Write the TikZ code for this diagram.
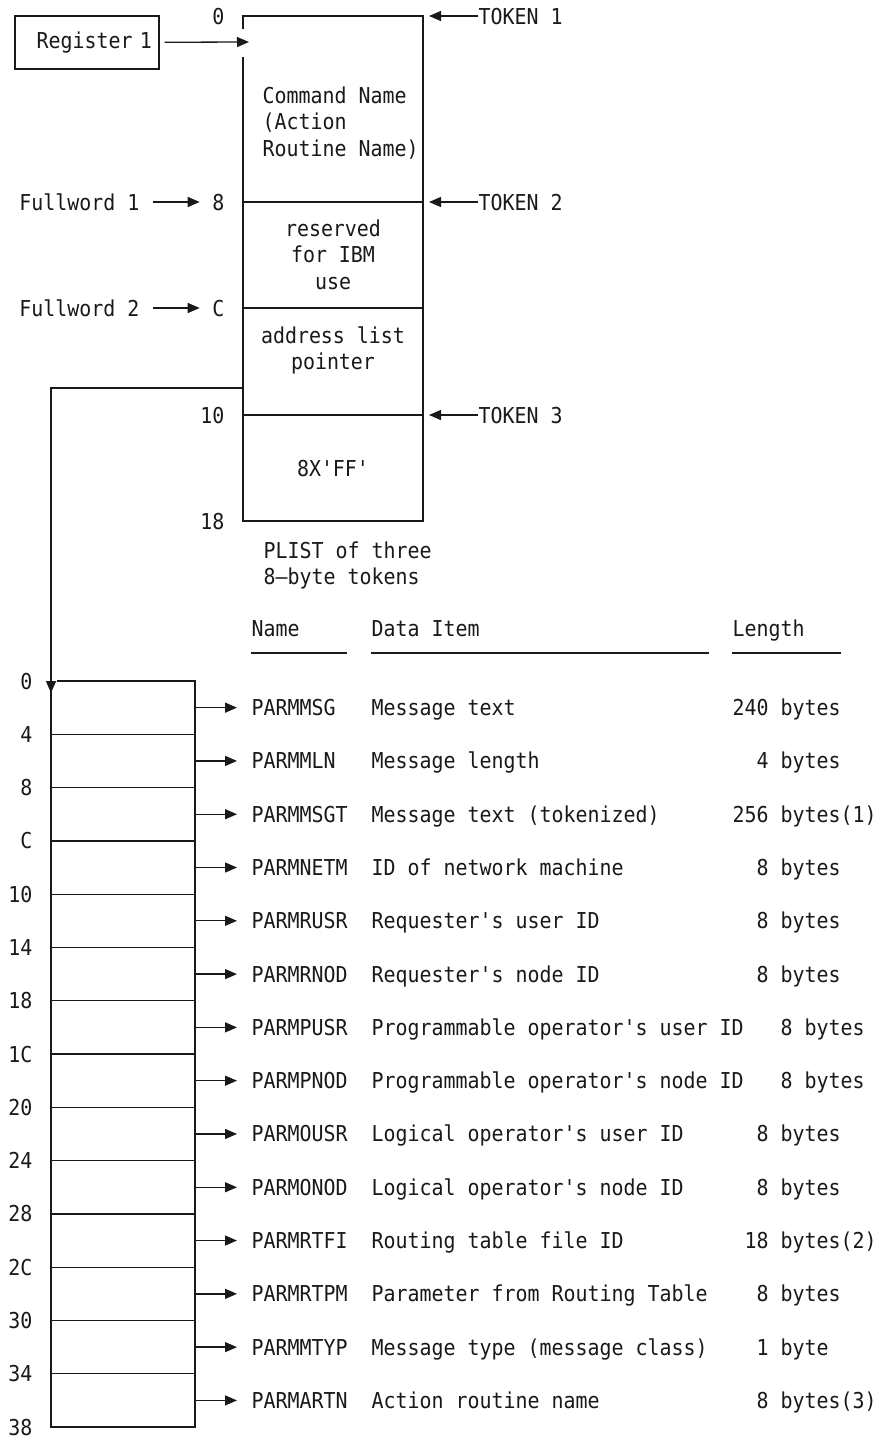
\documentclass[tikz,border=0pt]{standalone}
\usepackage{fontspec}
\setmonofont[FakeStretch=0.91]{DejaVu Sans Mono}
\usetikzlibrary{arrows.meta}
\definecolor{ink}{RGB}{25,25,25}

\begin{document}
\begin{tikzpicture}[x=1pt,y=-1pt,line width=1.3pt,color=ink,
  font=\ttfamily\fontsize{21.9}{26.5}\selectfont,
  >={Triangle[length=12pt,width=10pt]},
  lbl/.style={inner sep=0pt,text height=16pt,text depth=0pt},
  blk/.style={inner sep=0pt,align=center,anchor=north}]
\path[use as bounding box,fill=white] (0,0) rectangle (874,1438);
\def\rh{53.29}
\node[draw,inner ysep=0pt,inner xsep=7pt,minimum height=53pt,text width=130pt,align=right] (reg) at (87,42.5) {Register 1};
\coordinate (t0) at (243,16); \coordinate (t1) at (423,16);
\coordinate (b1) at (423,521); \coordinate (b0) at (243,521);
\coordinate (entry) at (249,42); \coordinate (ptr) at (243,388);
\coordinate (lb) at (51,693);
\draw (243,29) -- (t0) -- (t1) -- (b1) -- (b0) -- (243,57);
\foreach \y in {202,308,415} \draw (243,\y) -- (423,\y);
\foreach \y/\o in {16/0,202/8,308/C,415/10,521/18}
  \node[lbl,anchor=east] (o\o) at (225,\y) {\o};
\draw[->,shorten <=5pt] (reg) -- (entry);
\node[lbl,anchor=east] (fw1) at (140,202) {Fullword 1};
\node[lbl,anchor=east] (fw2) at (140,308) {Fullword 2};
\draw[->,shorten <=13pt,shorten >=12pt] (fw1) -- (o8);
\draw[->,shorten <=13pt,shorten >=12pt] (fw2) -- (oC);
\foreach \y/\k in {16/1,202/2,415/3} {
  \coordinate (r\k) at (423,\y);
  \node[lbl,anchor=west] (tok\k) at (478,\y) {TOKEN \k};
  \draw[->,shorten >=6pt] (tok\k) -- (r\k);
}
\node[blk,anchor=north west,align=left] (cmd) at (262,86) {Command Name\\(Action\\Routine Name)};
\node[blk] (rsv) at (333,219) {reserved\\for IBM\\use};
\node[blk] (adr) at (333,326) {address list\\pointer};
\node[lbl] (ff) at (333,468) {8X'FF'};
\node[blk,anchor=north west,align=left] (plist) at (263,541) {PLIST of three\\8—byte tokens};
\draw[->] (ptr) -| (lb);
\node[lbl,anchor=west] (hname) at (251,628) {Name};
\node[lbl,anchor=west] (hitem) at (371,628) {Data Item};
\node[lbl,anchor=west] (hlen) at (732,628) {Length};
\draw ([yshift=-25pt]hname.west) -- ++(96,0);
\draw ([yshift=-25pt]hitem.west) -- ++(338,0);
\draw ([yshift=-25pt]hlen.west) -- ++(109,0);
\draw (57,681) -- (195,681) -- (195,1427) -- (51,1427) -- (51,681);
\foreach \i in {1,...,13} \draw (51,{681+\i*\rh}) -- (195,{681+\i*\rh});
\foreach \o [count=\i from 0] in {0,4,8,C,10,14,18,1C,20,24,28,2C,30,34,38}
  \node[lbl,anchor=east] (a\o) at (33,{681+\i*\rh}) {\o};
\foreach \i/\nm/\itm/\lx/\len in {
  1/PARMMSG/Message text/732/240 bytes,
  2/PARMMLN/Message length/732/\phantom{00}4 bytes,
  3/PARMMSGT/Message text (tokenized)/732/256 bytes(1),
  4/PARMNETM/ID of network machine/732/\phantom{00}8 bytes,
  5/PARMRUSR/Requester's user ID/732/\phantom{00}8 bytes,
  6/PARMRNOD/Requester's node ID/732/\phantom{00}8 bytes,
  7/PARMPUSR/Programmable operator's user ID/780/8 bytes,
  8/PARMPNOD/Programmable operator's node ID/780/8 bytes,
  9/PARMOUSR/Logical operator's user ID/732/\phantom{00}8 bytes,
  10/PARMONOD/Logical operator's node ID/732/\phantom{00}8 bytes,
  11/PARMRTFI/Routing table file ID/732/\phantom{0}18 bytes(2),
  12/PARMRTPM/Parameter from Routing Table/732/\phantom{00}8 bytes,
  13/PARMMTYP/Message type (message class)/732/\phantom{00}1 byte,
  14/PARMARTN/Action routine name/732/\phantom{00}8 bytes(3)} {
  \coordinate (e\i) at (195,{681+(\i-0.5)*\rh});
  \node[lbl,anchor=west] (n\i) at (251,{681+(\i-0.5)*\rh}) {\nm};
  \node[lbl,anchor=west] (d\i) at (371,{681+(\i-0.5)*\rh}) {\itm};
  \node[lbl,anchor=west] (l\i) at (\lx,{681+(\i-0.5)*\rh}) {\len};
  \draw[->,shorten >=14pt] (e\i) -- (n\i);
}
\end{tikzpicture}
\end{document}
